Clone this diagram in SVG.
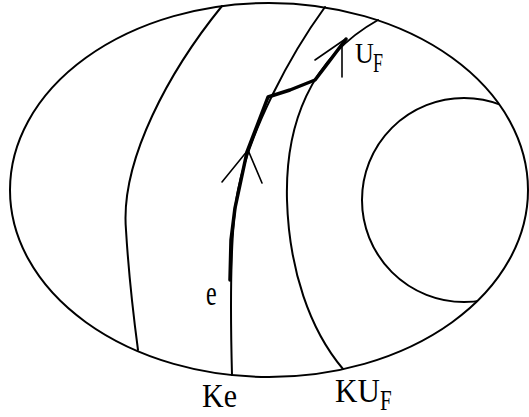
<svg xmlns="http://www.w3.org/2000/svg" width="529" height="417" viewBox="0 0 529 417">
<style>
.ln{fill:none;stroke:#000;stroke-width:2;stroke-linecap:round;stroke-linejoin:round}
.thk{fill:none;stroke:#000;stroke-width:3.5;stroke-linecap:round;stroke-linejoin:round}
.ar{fill:none;stroke:#000;stroke-width:1.6;stroke-linecap:round}
.t{font-family:"Liberation Serif","Times New Roman",serif;fill:#000}
</style>
<defs>
<clipPath id="inside"><ellipse cx="269" cy="190" rx="259" ry="187"/></clipPath>
</defs>
<rect width="529" height="417" fill="#fff"/>
<g id="outer">
<ellipse class="ln" cx="269" cy="190" rx="259" ry="187"/>
</g>
<g id="inner-circle">
<circle class="ln" cx="464" cy="200" r="102" clip-path="url(#inside)"/>
</g>
<g id="meridians">
<path class="ln" d="M222,6 C170,70 120,160 126,230 C129,280 134,320 138,350"/>
<path class="ln" d="M325,7 C290,55 250,130 238,190 C230,230 230,300 232,375"/>
<path class="ln" d="M378,20 C310,58 285,125 287,200 C289,270 310,330 343,369"/>
</g>
<g id="connectors">
<polyline class="thk" points="230,280 231,240 235,208 241,180 247,152 257,126 268,97 290,90 315,80 328,63 346,39"/>
<polyline class="ar" points="222,182 248,150 262,183"/>
<polyline class="ar" points="315,60 344,40"/>
<line class="ar" x1="342" y1="44" x2="342" y2="77"/>
</g>
<g id="labels">
<text class="t" font-size="29" transform="translate(355,63) scale(0.9,1.05)">U</text>
<text class="t" font-size="20" transform="translate(373,72) scale(0.9,1.35)">F</text>
<text class="t" font-size="24" transform="translate(206,305) scale(1,1.45)">e</text>
<text class="t" font-size="30" transform="translate(202,407) scale(1,1.1)">Ke</text>
<text class="t" font-size="31" transform="translate(335,402) scale(1,1.07)">KU</text>
<text class="t" font-size="21" transform="translate(380,410) scale(1,1.4)">F</text>
</g>
</svg>
